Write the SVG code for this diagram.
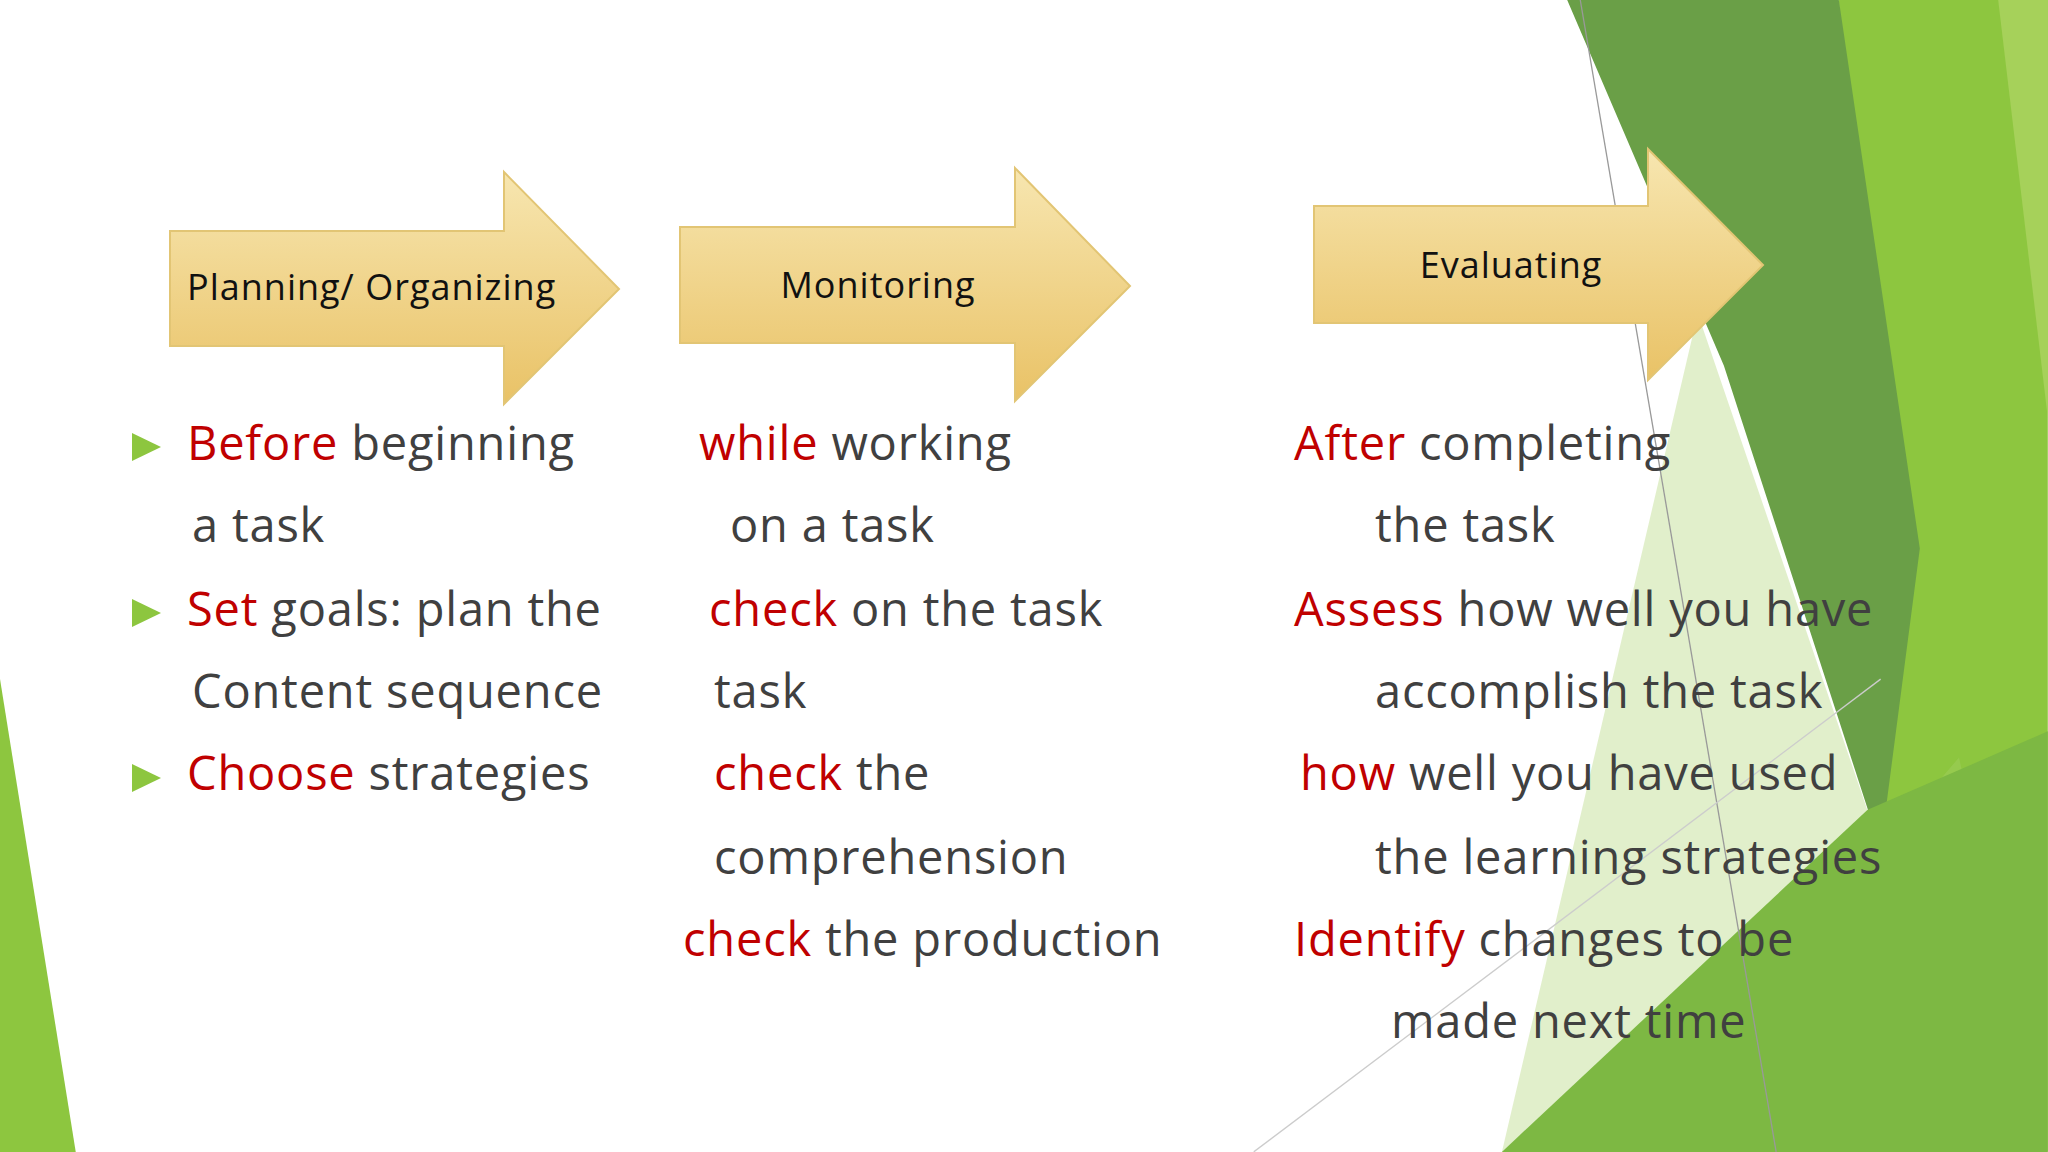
<svg xmlns="http://www.w3.org/2000/svg" width="2048" height="1152" viewBox="0 0 2048 1152">
<defs>
<linearGradient id="ag" x1="0" y1="0" x2="0" y2="1"><stop offset="0" stop-color="#F7E6B0"/><stop offset="1" stop-color="#E9C266"/></linearGradient>
<style>
.arrow{fill:url(#ag);stroke:#E2C574;stroke-width:2}
.lbl{font-family:"Open Sans","DejaVu Sans",sans-serif;font-size:36px;letter-spacing:1px;fill:#111}
.t{font-family:"Open Sans","DejaVu Sans",sans-serif;font-size:47px;letter-spacing:0.8px;fill:#404040}
.r{fill:#C00000}
.bul{fill:#8DC63F}
</style>
</defs>
<rect width="2048" height="1152" fill="#fff"/>
<g id="decor" transform="scale(1.306)">
<polygon points="0,520 0,882 58,882" fill="#8DC63F"/>
<polygon points="1408,0 1568,0 1568,882 1440,650" fill="#8DC63F"/>
<polygon points="1530,0 1568,0 1568,320" fill="#A6D15A"/>
<polygon points="1200,0 1408,0 1470,420 1440,650 1320,280" fill="#6A9F47"/>
<polygon points="1300,240 1440,650 1500,580 1568,882 1150,882" fill="#A8D06A" opacity="0.35"/>
<polygon points="1150,882 1568,882 1568,560 1430,620" fill="#7DB843"/>
<line x1="1210" y1="0" x2="1360" y2="882" stroke="#999" stroke-width="1"/>
<line x1="960" y1="882" x2="1440" y2="520" stroke="#ccc" stroke-width="1"/>
</g>
<g id="arrow1"><polygon class="arrow" points="170,231 504,231 504,172 619,289 504,404 504,346 170,346"/><text class="lbl" x="187" y="300">Planning/ Organizing</text></g>
<g id="arrow2"><polygon class="arrow" points="680,227 1015,227 1015,168 1130,286 1015,401 1015,343 680,343"/><text class="lbl" x="878" y="298" text-anchor="middle">Monitoring</text></g>
<g id="arrow3"><polygon class="arrow" points="1314,206 1648,206 1648,149 1763,265 1648,380 1648,323 1314,323"/><text class="lbl" x="1511" y="278" text-anchor="middle">Evaluating</text></g>
<g id="col1">
<polygon class="bul" points="132,433 161,447 132,461"/>
<polygon class="bul" points="132,599 161,613 132,627"/>
<polygon class="bul" points="132,764 161,778 132,792"/>
<text class="t" x="187" y="460"><tspan class="r">Before</tspan> beginning</text>
<text class="t" x="192" y="542">a task</text>
<text class="t" x="187" y="626"><tspan class="r">Set</tspan> goals: plan the</text>
<text class="t" x="192" y="708">Content sequence</text>
<text class="t" x="187" y="790"><tspan class="r">Choose</tspan> strategies</text>
</g>
<g id="col2">
<text class="t" x="699" y="460"><tspan class="r">while</tspan> working</text>
<text class="t" x="730" y="542">on a task</text>
<text class="t" x="709" y="626"><tspan class="r">check</tspan> on the task</text>
<text class="t" x="714" y="708">task</text>
<text class="t" x="714" y="790"><tspan class="r">check</tspan> the</text>
<text class="t" x="714" y="874">comprehension</text>
<text class="t" x="683" y="956"><tspan class="r">check</tspan> the production</text>
</g>
<g id="col3">
<text class="t" x="1294" y="460"><tspan class="r">After</tspan> completing</text>
<text class="t" x="1375" y="542">the task</text>
<text class="t" x="1294" y="626"><tspan class="r">Assess</tspan> how well you have</text>
<text class="t" x="1375" y="708">accomplish the task</text>
<text class="t" x="1300" y="790"><tspan class="r">how</tspan> well you have used</text>
<text class="t" x="1375" y="874">the learning strategies</text>
<text class="t" x="1294" y="956"><tspan class="r">Identify</tspan> changes to be</text>
<text class="t" x="1391" y="1038">made next time</text>
</g>
<g id="connectors"/>
</svg>
